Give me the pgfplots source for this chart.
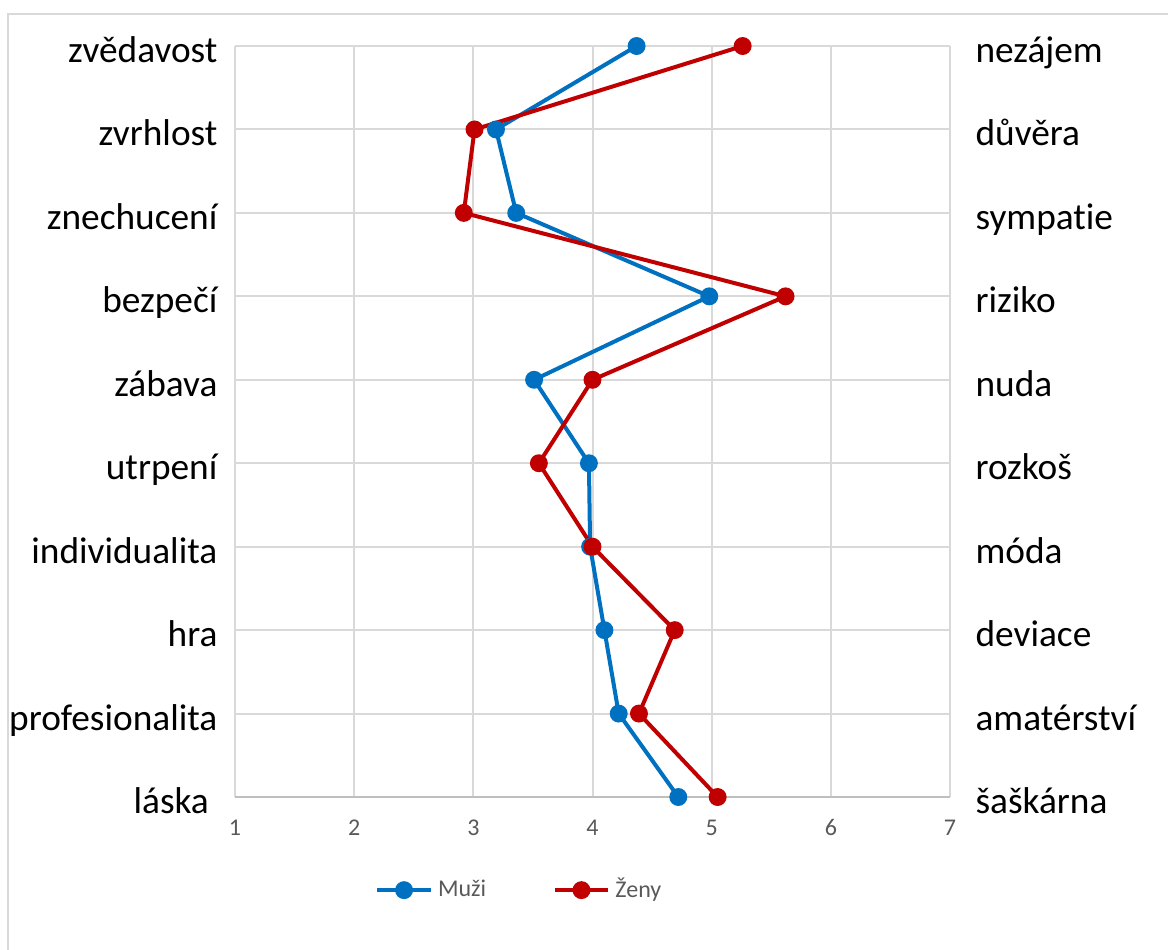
\documentclass[border=0pt]{standalone}
\usepackage{fontspec}
\setmainfont{Carlito}[Ligatures={NoCommon}]
\usepackage{pgfplots}
\usepackage{pgfplotstable}
\pgfplotsset{compat=1.18}

\definecolor{muzi}{HTML}{0070C0}
\definecolor{zeny}{HTML}{C00000}
\definecolor{gridc}{HTML}{D9D9D9}
\definecolor{axisc}{HTML}{BFBFBF}
\definecolor{textc}{HTML}{595959}

% category index (0 = top row) and mean score per group
\pgfplotstableread{
y muzi zeny
0 4.37 5.26
1 3.19 3.01
2 3.36 2.92
3 4.98 5.62
4 3.51 4.00
5 3.97 3.55
6 3.98 4.00
7 4.10 4.69
8 4.22 4.39
9 4.72 5.05
}\data

\begin{document}
\begin{tikzpicture}[x=0.375bp,y=-0.375bp]
\useasboundingbox (0,0) rectangle (1168,950);
\draw[gridc, line width=0.75bp] (8,950) -- (8,14) -- (1168,14);
\coordinate (O) at (235,46);

\begin{axis}[
  at={(O)}, anchor=north west,
  scale only axis, width=268.125bp, height=281.625bp,
  xmin=1, xmax=7, ymin=0, ymax=9, y dir=reverse,
  xtick={1,...,7}, ytick={0,...,9},
  yticklabels={zvědavost, zvrhlost, znechucení, bezpečí, zábava, utrpení,
    individualita, hra, profesionalita, {láska\kern3.2bp}},
  axis x line*=bottom, axis y line*=left,
  x axis line style={axisc, line width=0.75bp, -},
  y axis line style={draw=none},
  major tick length=0pt,
  grid=major, grid style={gridc, line width=0.75bp},
  /pgf/number format/assume math mode=true,
  xticklabel style={font=\fontsize{9bp}{11bp}\selectfont, text=textc,
    anchor=center, inner sep=0pt, yshift=-11.6bp},
  yticklabel style={font=\fontsize{14bp}{17bp}\selectfont, text=black,
    anchor=base east, inner sep=0pt, xshift=-6.4bp, yshift=-6.2bp},
  clip=false,
  legend columns=2,
  legend style={at={(0.4,-0.124)}, anchor=center, draw=none, fill=none,
    font=\fontsize{9bp}{11bp}\selectfont, text=textc,
    /tikz/every even column/.append style={column sep=23bp},
    inner sep=0pt},
  legend image code/.code={%
    \draw[#1, mark repeat=2, mark phase=2]
      plot coordinates {(0bp,0bp) (10bp,0bp) (20bp,0bp)};},
]
\addplot[muzi, line width=1.5bp, mark=*, mark size=2.6bp,
  mark options={fill=muzi, draw=muzi}]
  table[x=muzi, y=y] {\data};
\addlegendentry{Muži}
\addplot[zeny, line width=1.5bp, mark=*, mark size=2.6bp,
  mark options={fill=zeny, draw=zeny}]
  table[x=zeny, y=y] {\data};
\addlegendentry{Ženy}
\end{axis}

\begin{axis}[
  at={(O)}, anchor=north west,
  scale only axis, width=268.125bp, height=281.625bp,
  xmin=1, xmax=7, ymin=0, ymax=9, y dir=reverse,
  axis x line=none, axis y line*=right,
  y axis line style={draw=none},
  ytick={0,...,9},
  yticklabels={nezájem, důvěra, sympatie, riziko, nuda, rozkoš, móda,
    deviace, amatérství, šaškárna},
  major tick length=0pt,
  yticklabel style={font=\fontsize{14bp}{17bp}\selectfont, text=black,
    anchor=base west, inner sep=0pt, xshift=9.4bp, yshift=-6.2bp},
]
\end{axis}
\end{tikzpicture}
\end{document}
